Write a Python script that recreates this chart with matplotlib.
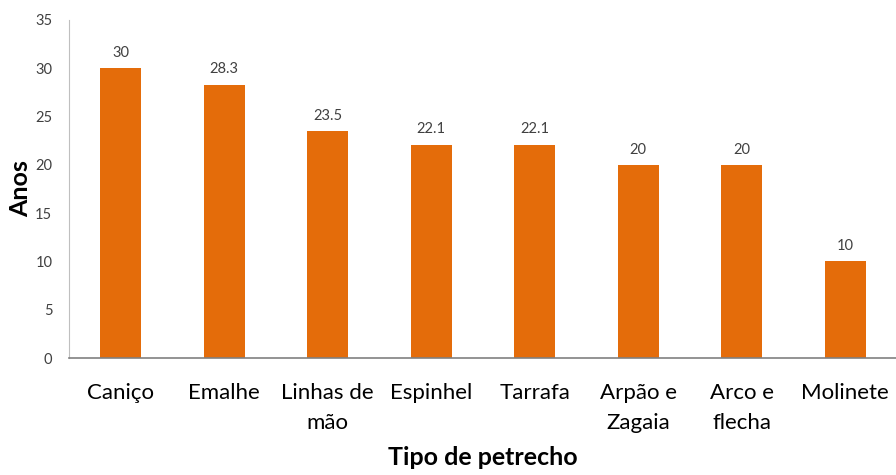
import matplotlib
matplotlib.use('Agg')
from matplotlib import pyplot as plt
import numpy as np

# data
categories = ['Caniço', 'Emalhe', 'Linhas de\nmão', 'Espinhel', 'Tarrafa',
              'Arpão e\nZagaia', 'Arco e\nflecha', 'Molinete']
anos = [30, 28.3, 23.5, 22.1, 22.1, 20, 20, 10]
value_labels = ['30', '28.3', '23.5', '22.1', '22.1', '20', '20', '10']
y_ticks = [0, 5, 10, 15, 20, 25, 30, 35]

plt.rcParams['font.family'] = ['Lato', 'DejaVu Sans']

fig = plt.figure(figsize=(8.96, 4.75), dpi=100)
ax = fig.add_axes([69 / 896, 117 / 475, 828 / 896, 338 / 475])

x = np.arange(len(categories))
bars = ax.bar(x, anos, width=0.4, color='#E46C0A', zorder=2)

for bar, label in zip(bars, value_labels):
    ax.annotate(label, (bar.get_x() + bar.get_width() / 2, bar.get_height()),
                xytext=(0, 6), textcoords='offset points', ha='center', va='bottom',
                fontsize=10.5, color='#404040')

ax.set_xlim(-0.5, len(categories) - 0.5)
ax.set_ylim(0, 35)
ax.set_yticks(y_ticks)
ax.set_yticklabels([str(t) for t in y_ticks], fontsize=10.5, color='#404040')
ax.set_xticks(x)
ax.set_xticklabels(categories, fontsize=16, color='black', linespacing=1.65)
ax.tick_params(axis='both', length=0)
ax.tick_params(axis='y', pad=12)
ax.tick_params(axis='x', pad=18)

ax.spines['top'].set_visible(False)
ax.spines['right'].set_visible(False)
ax.spines['left'].set_color('#BFBFBF')
ax.spines['bottom'].set_color('#808080')
ax.spines['bottom'].set_linewidth(1.2)

ax.set_ylabel('Anos', fontsize=18, fontweight='bold', labelpad=2)
ax.set_xlabel('Tipo de petrecho', fontsize=18, fontweight='bold', labelpad=9)

fig.savefig('out.png', dpi=100)
